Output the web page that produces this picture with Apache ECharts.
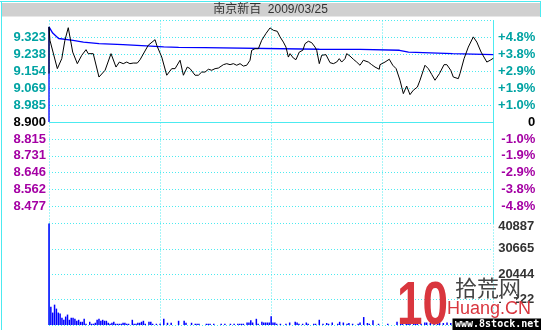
<!DOCTYPE html>
<html><head><meta charset="utf-8">
<script src="https://cdn.jsdelivr.net/npm/echarts@6/dist/echarts.min.js"></script>
<style>html,body{margin:0;padding:0;background:#fff}#c{width:541px;height:330px}</style>
</head><body><div id="c"></div>
<script>
// ---------- data ----------
const TITLE = '南京新百  2009/03/25';
const PREV_CLOSE = 8.900;
const PRICE_MIN = 8.392;
const PRICE_MAX = 9.408;
const PRICE_TICK_VALUES = [8.392, 8.477, 8.562, 8.646, 8.731, 8.815, 8.900, 8.985, 9.069, 9.154, 9.238, 9.323, 9.408];
const PRICE_TICK_LABELS = ['', '8.477', '8.562', '8.646', '8.731', '8.815', '8.900', '8.985', '9.069', '9.154', '9.238', '9.323', ''];
const PCT_TICK_LABELS = ['', '-4.8%', '-3.8%', '-2.9%', '-1.9%', '-1.0%', '0', '+1.0%', '+1.9%', '+2.9%', '+3.8%', '+4.8%', ''];
const VOL_MAX = 40887;
const VOL_TICK_VALUES = [0, 10222, 20444, 30665, 40887];
const VOL_TICK_LABELS = ['', '10222', '20444', '30665', '40887'];
const MINUTES_MAX = 240;

// [minute, price]
const PRICE_POINTS = [[0,9.142],[0,9.376],[0.5,9.309],[4.5,9.167],[6.9,9.217],[8.6,9.309],[10.4,9.372],[12.8,9.250],[15.3,9.192],[17.7,9.234],[20,9.262],[21.2,9.242],[23.9,9.242],[27,9.125],[30.3,9.159],[33.5,9.242],[36.2,9.175],[38,9.200],[40.1,9.192],[42,9.200],[43.7,9.192],[45.5,9.195],[47.7,9.195],[49.2,9.212],[53.6,9.284],[57.3,9.312],[58.2,9.284],[60.9,9.225],[63.6,9.134],[66.3,9.167],[68.1,9.167],[70.8,9.209],[72.6,9.134],[74.7,9.175],[76.2,9.167],[78.9,9.134],[80.7,9.134],[82.5,9.150],[84.3,9.150],[86.1,9.164],[87.9,9.159],[89.7,9.167],[91.5,9.170],[94.2,9.187],[96,9.192],[97.8,9.187],[99.6,9.192],[101.4,9.184],[103.2,9.192],[105,9.180],[106.8,9.184],[108.6,9.209],[109.5,9.259],[111.3,9.267],[113.1,9.267],[114.9,9.309],[117.2,9.343],[119.4,9.371],[121.2,9.359],[123.3,9.354],[124.8,9.326],[126.6,9.300],[128,9.275],[129.3,9.225],[130.2,9.242],[132,9.220],[133.4,9.212],[135.2,9.250],[137.1,9.259],[138.3,9.292],[140.1,9.304],[141.9,9.297],[143.7,9.275],[144.6,9.259],[146,9.192],[147.3,9.234],[149.6,9.237],[151.8,9.197],[153.6,9.192],[155.4,9.200],[156.8,9.217],[158.1,9.200],[159.9,9.217],[160.8,9.242],[162.6,9.230],[164.4,9.214],[166.2,9.200],[168,9.184],[169.8,9.209],[172.5,9.200],[174.3,9.187],[176.1,9.175],[178.4,9.164],[178.8,9.187],[181.5,9.200],[183.8,9.214],[185.7,9.184],[187.5,9.167],[189.6,9.109],[191.4,9.042],[193.2,9.080],[195,9.037],[196.8,9.059],[199,9.075],[200.4,9.109],[203.1,9.184],[204.9,9.167],[206.8,9.137],[208.5,9.109],[210.9,9.142],[213.4,9.187],[214.9,9.187],[217,9.159],[218.4,9.125],[221.1,9.117],[222,9.142],[224.2,9.217],[226.5,9.275],[229.2,9.326],[231.1,9.300],[233.4,9.250],[236.5,9.200],[238.3,9.209],[240,9.219]];

// [minute, average price]
const AVG_POINTS = [[0,8.900],[0,9.376],[2,9.345],[5.2,9.318],[6,9.312],[13,9.309],[18.6,9.300],[27,9.292],[40,9.287],[55,9.280],[62,9.276],[70,9.273],[84,9.272],[85,9.264],[146,9.264],[168.2,9.263],[168.8,9.259],[189.3,9.259],[189.8,9.250],[194.2,9.250],[194.7,9.242],[218,9.242],[218.5,9.237],[240,9.237]];

// [minute, volume]
const VOLUME = [[0,40887],[1,7400],[2,5000],[3,8200],[4,6600],[5,5000],[6,4600],[7,2900],[8,2100],[9,3400],[10,4200],[11,2100],[12,2900],[13,2900],[14,2500],[15,1700],[16,2100],[17,1300],[18,1300],[19,2500],[20,500],[22,1300],[23,500],[24,500],[25,900],[26,2100],[27,2500],[28,1700],[29,2100],[30,1700],[31,1700],[32,900],[33,500],[34,900],[35,1300],[36,500],[37,500],[38,500],[39,500],[40,900],[41,900],[42,500],[43,500],[45,2100],[46,500],[47,500],[48,900],[49,900],[50,1300],[51,1700],[52,500],[54,1300],[55,1300],[56,500],[58,500],[60,500],[62,2500],[64,900],[66,900],[70,1700],[73,1700],[74,900],[77,900],[79,500],[80,500],[81,500],[85,500],[86,500],[87,500],[89,500],[93,500],[95,500],[98,500],[100,500],[102,500],[103,500],[104,500],[105,500],[107,1000],[108,1000],[109,1900],[110,1000],[112,2500],[113,500],[115,1300],[116,1000],[117,1000],[118,1000],[119,1000],[120,3500],[121,1000],[122,1000],[123,500],[125,500],[128,500],[130,1000],[133,1300],[134,1000],[135,500],[137,500],[139,1000],[140,500],[143,500],[144,500],[146,2100],[148,500],[150,800],[151,500],[153,1000],[156,500],[157,1300],[159,1000],[161,500],[162,800],[164,500],[167,500],[168,1000],[170,3200],[172,800],[173,500],[175,1900],[178,500],[183,500],[188,1300],[190,2100],[191,1300],[193,1300],[194,1000],[195,1000],[197,800],[198,1300],[199,800],[201,500],[203,1000],[204,1000],[206,800],[208,800],[210,500],[211,1000],[213,800],[215,1000],[217,800],[219,800],[222,1000],[226,1300],[229,900],[233,1100],[237,800],[240,1500]];

// ---------- styles ----------
const CYAN = '#4ceaf0';
const TEAL = '#00a3a3';
const PURPLE = '#a400a4';
const LABEL_FONT = 'Liberation Sans, Arial, sans-serif';

function nearestIndex(arr, v) {
  let best = 0, bd = Infinity;
  arr.forEach((a, i) => { const d = Math.abs(a - v); if (d < bd) { bd = d; best = i; } });
  return best;
}
function priceColor(v) {
  const n = Number(v);
  if (Math.abs(n - PREV_CLOSE) < 1e-6) return '#000';
  return n > PREV_CLOSE ? TEAL : PURPLE;
}

const chart = echarts.init(document.getElementById('c'), null, { renderer: 'canvas' });
const PLOT_L = 49, PLOT_W = 444.3;

chart.setOption({
  animation: false,
  backgroundColor: '#fff',
  grid: [
    { left: PLOT_L, top: 20.5, width: PLOT_W, height: 203, containLabel: false, outerBoundsMode: 'none' },
    { left: PLOT_L, top: 223.5, width: PLOT_W, height: 101.5, containLabel: false, outerBoundsMode: 'none' }
  ],
  xAxis: [0, 1].map(i => ({
    type: 'value', gridIndex: i, min: 0, max: MINUTES_MAX, interval: 60,
    axisLine: { show: false }, axisTick: { show: false }, axisLabel: { show: false },
    splitLine: { show: true, lineStyle: { color: CYAN, type: [1, 2], width: 1 } }
  })),
  yAxis: [
    {
      type: 'value', gridIndex: 0, position: 'left', min: PRICE_MIN, max: PRICE_MAX,
      axisLine: { show: false },
      axisTick: { show: false, customValues: PRICE_TICK_VALUES },
      axisLabel: {
        customValues: PRICE_TICK_VALUES, margin: 3, padding: [5, 0, 0, 0],
        fontFamily: LABEL_FONT, fontWeight: 'bold', fontSize: 13,
        color: v => priceColor(v),
        formatter: v => PRICE_TICK_LABELS[nearestIndex(PRICE_TICK_VALUES, v)]
      },
      splitLine: { show: true, lineStyle: { color: CYAN, type: [1, 2], width: 1 } }
    },
    {
      type: 'value', gridIndex: 0, position: 'right', min: PRICE_MIN, max: PRICE_MAX,
      axisLine: { show: true, lineStyle: { color: CYAN, width: 1 } },
      axisTick: { show: false, customValues: PRICE_TICK_VALUES },
      axisLabel: {
        customValues: PRICE_TICK_VALUES, margin: 42, align: 'right', padding: [5, 0, 0, 0],
        fontFamily: LABEL_FONT, fontWeight: 'bold', fontSize: 13,
        color: v => priceColor(v),
        formatter: v => PCT_TICK_LABELS[nearestIndex(PRICE_TICK_VALUES, v)]
      },
      splitLine: { show: false }
    },
    {
      type: 'value', gridIndex: 1, position: 'right', min: 0, max: VOL_MAX,
      axisLine: { show: true, lineStyle: { color: CYAN, width: 1 } },
      axisTick: { show: false, customValues: VOL_TICK_VALUES },
      axisLabel: {
        customValues: VOL_TICK_VALUES, margin: 41, align: 'right',
        fontFamily: LABEL_FONT, fontWeight: 'bold', fontSize: 13, color: '#333',
        formatter: v => {
          const i = nearestIndex(VOL_TICK_VALUES, v);
          const t = VOL_TICK_LABELS[i];
          return i === VOL_TICK_VALUES.length - 1 ? '{t|' + t + '}' : t;
        },
        rich: { t: { padding: [5, 0, 0, 0], fontFamily: LABEL_FONT, fontWeight: 'bold', fontSize: 13, color: '#333' } }
      },
      splitLine: { show: true, lineStyle: { color: CYAN, type: [1, 2], width: 1 } }
    }
  ],
  series: [
    {
      type: 'line', xAxisIndex: 0, yAxisIndex: 0, data: AVG_POINTS,
      showSymbol: false, lineStyle: { color: '#0000ff', width: 1.3 }, z: 3,
      markLine: {
        silent: true, symbol: 'none', label: { show: false },
        lineStyle: { color: CYAN, type: 'solid', width: 1 },
        data: [{ yAxis: PREV_CLOSE }]
      }
    },
    {
      type: 'line', xAxisIndex: 0, yAxisIndex: 0, data: PRICE_POINTS,
      showSymbol: false, lineStyle: { color: '#000', width: 1 }, z: 4
    },
    {
      type: 'bar', xAxisIndex: 1, yAxisIndex: 2, data: VOLUME,
      barWidth: 1.5, itemStyle: { color: '#0000ff' }
    }
  ],
  graphic: [
    { type: 'rect', shape: { x: 1.5, y: 3, width: 538.5, height: 13.5 }, style: { fill: '#d0d0d0' }, z: 10 },
    { type: 'text', x: 270.5, y: 10, style: { text: TITLE, fill: '#333', font: '12px "Liberation Sans", "Noto Sans CJK SC", sans-serif', textAlign: 'center', textVerticalAlign: 'middle' }, z: 11 },
    { type: 'line', shape: { x1: 0, y1: 1.5, x2: 541, y2: 1.5 }, style: { stroke: CYAN, lineWidth: 1 }, z: 10 },
    { type: 'line', shape: { x1: 1.5, y1: 1.5, x2: 1.5, y2: 330 }, style: { stroke: CYAN, lineWidth: 1 }, z: 10 },
    { type: 'line', shape: { x1: 540.5, y1: 1.5, x2: 540.5, y2: 17 }, style: { stroke: CYAN, lineWidth: 1 }, z: 10 },
    // watermark
    { type: 'rect', shape: { x: 501, y: 291, width: 15, height: 19 }, style: { fill: '#fff' }, z: 19 },
    { type: 'text', x: 397, y: 276, scaleX: 0.74, style: { text: '10', fill: '#d9363e', font: 'bold 62px "Liberation Sans", Arial, sans-serif' }, z: 20 },
    { type: 'text', x: 455, y: 277, style: { text: '拾荒网', fill: '#444', font: '22px "Noto Sans CJK SC", sans-serif' }, z: 20 },
    { type: 'text', x: 447, y: 300, style: { text: 'Huang.CN', fill: '#d9363e', font: '18px "Liberation Sans", Arial, sans-serif' }, z: 20 },
    { type: 'rect', shape: { x: 452.5, y: 318.5, width: 89, height: 12 }, style: { fill: '#000' }, z: 20 },
    { type: 'text', x: 455, y: 319.5, style: { text: 'www.8stock.net', fill: '#fff', font: 'bold 10px "DejaVu Sans Mono", monospace' }, z: 21 }
  ]
});
</script>
</body></html>
